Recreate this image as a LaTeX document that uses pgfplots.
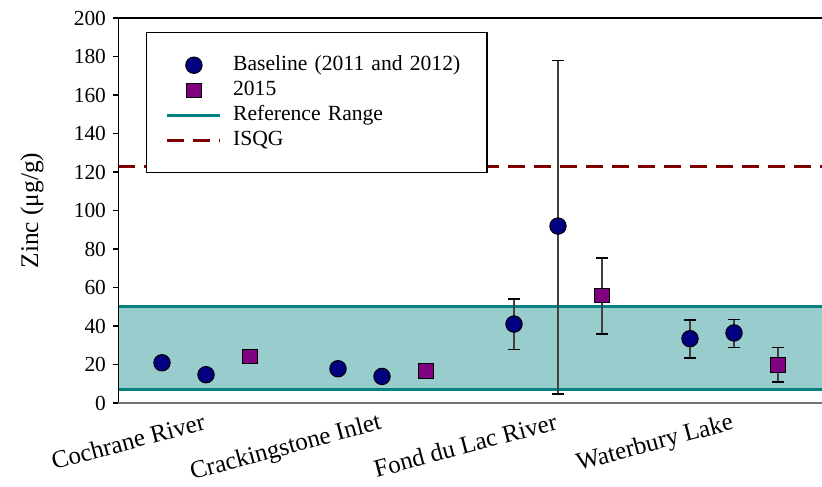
\documentclass[border=0pt]{standalone}
\usepackage{fontspec}
\setmainfont{Liberation Serif}
\usepackage{pgfplots}
\pgfplotsset{compat=1.18}
\definecolor{navyblue}{RGB}{0,0,128}
\definecolor{plum2015}{RGB}{128,0,128}
\definecolor{refteal}{RGB}{0,128,128}
\definecolor{refband}{RGB}{153,204,204}
\definecolor{isqgred}{RGB}{128,0,0}

\begin{document}
\begin{tikzpicture}
\begin{axis}[name=ax,
scale only axis,
width=352pt, height=192.5pt,
xmin=0, xmax=16,
ymin=0, ymax=200,
ytick={0,20,...,200},
xtick={2,6,10,14},
xticklabels={Cochrane River, Crackingstone Inlet, Fond du Lac River, Waterbury Lake},
x tick label style={rotate=15, anchor=north east, font=\fontsize{12.5}{15}\selectfont, yshift=2pt, xshift=1pt},
y tick label style={font=\fontsize{10.7}{12}\selectfont},
/pgf/number format/assume math mode=true,
ytick pos=left,
tick align=outside,
major tick length=2.5pt,
xtick style={draw=none},
ytick style={black, line width=0.7pt},
axis line style={draw=none},
ylabel={Zinc (μg/g)},
ylabel style={font=\fontsize{12.7}{14}\selectfont, at={(axis description cs:-0.122,0.5)}, anchor=center},
legend image code/.code={\draw[mark repeat=2,mark phase=2,#1] plot coordinates {(0pt,0pt) (13.25pt,0pt) (26.5pt,0pt)};},
legend style={at={(axis description cs:0.0398,0.9636)}, anchor=north west,
  draw=black, line width=0.7pt, inner xsep=9.5pt, inner ysep=11.25pt, row sep=2.5pt,
  font=\fontsize{10.8}{12}\selectfont,
  nodes={text width=115.5pt, align=left, inner ysep=0pt, text height=7.5pt, text depth=2.5pt},
  /tikz/every odd column/.append style={column sep=3.5pt}},
legend cell align=left,
]
% legend entries
\addlegendimage{only marks, mark=*, mark size=4.1pt, mark options={fill=navyblue, draw=black, line width=0.5pt}}
\addlegendentry{Baseline (2011 and 2012)}
\addlegendimage{only marks, mark=square*, mark size=3.6pt, mark options={fill=plum2015, draw=black, line width=0.5pt}}
\addlegendentry{2015}
\addlegendimage{refteal, line width=1.6pt}
\addlegendentry{Reference Range}
\addlegendimage{isqgred, line width=1.7pt, dash pattern=on 8.5pt off 4.5pt}
\addlegendentry{ISQG}

% reference range band
\addplot[forget plot, fill=refband, draw=none] coordinates {(0,7) (16,7) (16,50) (0,50)} -- cycle;
\addplot[forget plot, refteal, line width=1.6pt] coordinates {(0,7) (16,7)};
\addplot[forget plot, refteal, line width=1.6pt] coordinates {(0,50) (16,50)};
% ISQG
\addplot[forget plot, isqgred, line width=1.7pt, dash pattern=on 8.5pt off 4.5pt] coordinates {(0,123) (16,123)};

% baseline without error bars
\addplot[forget plot, only marks, mark=*, mark size=4.1pt, mark options={fill=navyblue, draw=black, line width=0.5pt}]
coordinates {(1,20.9) (2,14.7) (5,17.8) (6,13.8)};
% baseline with error bars
\addplot[forget plot, only marks, mark=*, mark size=4.1pt, mark options={fill=navyblue, draw=black, line width=0.5pt},
  error bars/.cd, y dir=both, y explicit,
  error bar style={black!75, line width=0.7pt}, error mark options={black, line width=0.7pt, mark size=3pt, rotate=90}]
coordinates {
(9,41.0) += (0,13.0) -= (0,13.1)
(10,91.9) += (0,86.0) -= (0,87.2)
(13,33.4) += (0,9.7) -= (0,10.0)
(14,36.4) += (0,7.1) -= (0,7.7)
};
% 2015 without error bars
\addplot[forget plot, only marks, mark=square*, mark size=3.6pt, mark options={fill=plum2015, draw=black, line width=0.5pt}]
coordinates {(3,24.1) (7,16.6)};
% 2015 with error bars
\addplot[forget plot, only marks, mark=square*, mark size=3.6pt, mark options={fill=plum2015, draw=black, line width=0.5pt},
  error bars/.cd, y dir=both, y explicit,
  error bar style={black!75, line width=0.7pt}, error mark options={black, line width=0.7pt, mark size=3pt, rotate=90}]
coordinates {
(11,55.7) += (0,19.6) -= (0,19.9)
(15,19.7) += (0,9.0) -= (0,8.8)
};

% frame lines
\draw[black, line width=0.8pt] (rel axis cs:0,0) -- (rel axis cs:0,1) -- (rel axis cs:1,1);
\draw[black!55, line width=0.9pt] (rel axis cs:0,0) -- (rel axis cs:1,0);
\end{axis}
\pgfresetboundingbox
\path ([xshift=-59pt,yshift=-41.5pt]ax.south west) rectangle ([yshift=9pt]ax.north east);
\end{tikzpicture}
\end{document}
